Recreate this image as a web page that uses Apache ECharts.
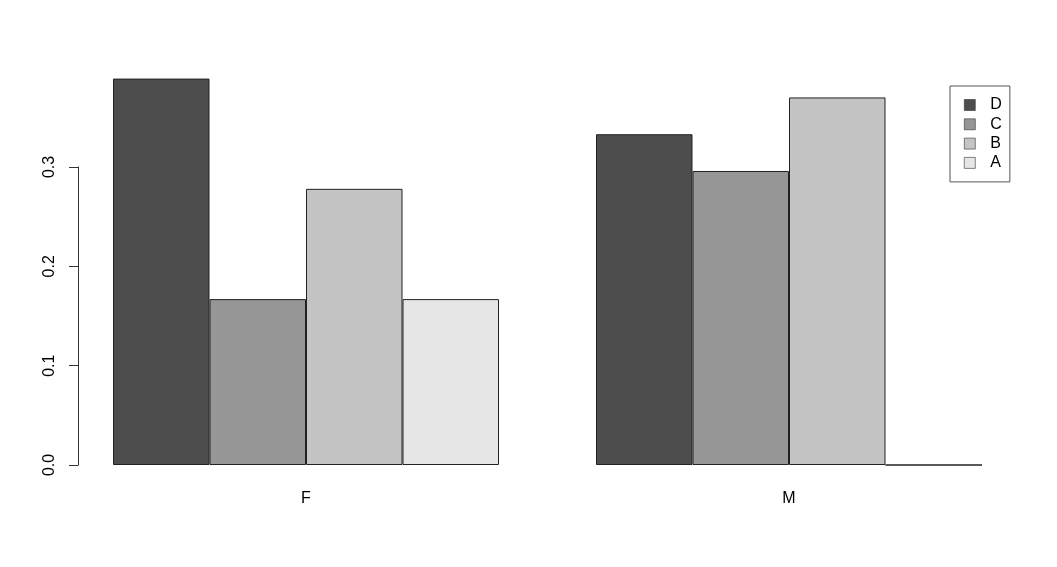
<!DOCTYPE html>
<html>
<head>
<meta charset="utf-8">
<script src="https://cdn.jsdelivr.net/npm/echarts@6/dist/echarts.min.js"></script>
<style>
  html, body { margin: 0; padding: 0; background: #fff; }
  #main { width: 1057px; height: 567px; }
</style>
</head>
<body>
<div id="main"></div>
<script>
// groups on the x axis
const categories = ["F", "M"];

// proportions per group, one array per level
const valD = [0.389, 0.333];
const valC = [0.167, 0.296];
const valB = [0.278, 0.370];
const valA = [0.167, 0];

const levels = ["D", "C", "B", "A"];
const levelValues = [valD, valC, valB, valA];
const levelColors = ["#4d4d4d", "#969696", "#c4c4c4", "#e6e6e6"];

const yTicks = [0, 0.1, 0.2, 0.3];

const chart = echarts.init(document.getElementById("main"));

const series = levels.map((name, i) => ({
  name: name,
  type: "bar",
  data: levelValues[i],
  barWidth: 96.5,
  barGap: "0%",
  clip: false,
  itemStyle: { color: levelColors[i], borderColor: "#222", borderWidth: 1 },
  emphasis: { disabled: true }
}));

chart.setOption({
  animation: false,
  textStyle: { fontFamily: "Liberation Sans, Arial, sans-serif" },
  grid: { left: 64.5, right: 26.5, top: 167, bottom: 102 },
  legend: {
    data: levels,
    orient: "vertical",
    left: 950,
    top: 86,
    icon: "rect",
    itemWidth: 11,
    itemHeight: 11,
    itemGap: 3.3,
    padding: [11, 8, 11, 14],
    borderColor: "#555",
    borderWidth: 1,
    itemStyle: { borderWidth: 0.6, borderColor: "#333" },
    textStyle: { fontSize: 16, color: "#000", lineHeight: 16, padding: [0, 0, 0, 10] }
  },
  xAxis: {
    type: "category",
    data: categories,
    axisLine: { show: false },
    axisTick: { show: false },
    axisLabel: { fontSize: 16, color: "#000", margin: 26 }
  },
  yAxis: {
    type: "value",
    min: yTicks[0],
    max: yTicks[yTicks.length - 1],
    interval: 0.1,
    offset: -13.5,
    splitLine: { show: false },
    axisLine: { show: true, lineStyle: { color: "#333" } },
    axisTick: { show: true, length: 9, lineStyle: { color: "#333" } },
    axisLabel: {
      fontSize: 16,
      color: "#000",
      rotate: 90,
      margin: 20,
      formatter: v => v.toFixed(1)
    }
  },
  series: series
});
</script>
</body>
</html>
